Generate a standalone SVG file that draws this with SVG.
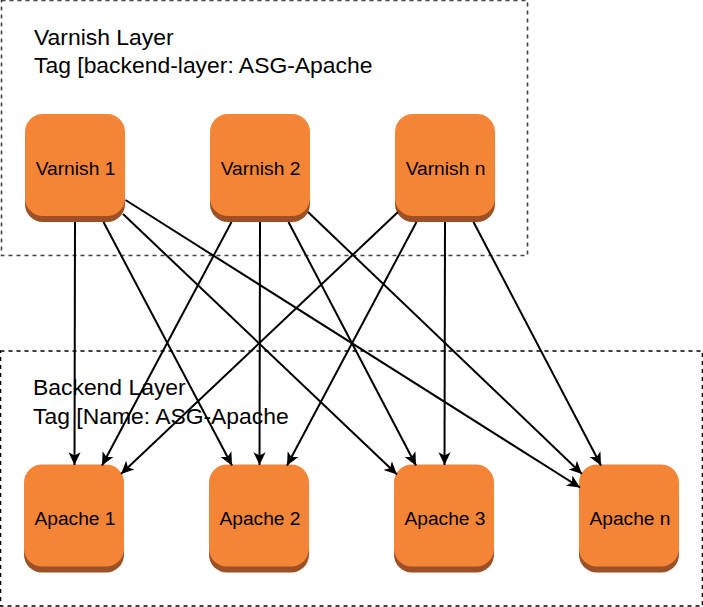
<svg xmlns="http://www.w3.org/2000/svg" width="703" height="607" viewBox="0 0 703 607">
<defs>
<marker id="arrow" markerUnits="userSpaceOnUse" markerWidth="14" markerHeight="14" refX="11" refY="6" orient="auto" viewBox="0 0 12 12"><path d="M0,0.8 L11,6 L0,11.2 L2.800,6 Z" fill="#000"/></marker>
<g id="tile"><rect x="0" y="6" width="100" height="102" rx="18" fill="#9d5025"/><rect x="0" y="0" width="100" height="102" rx="18" fill="#f58536"/></g>
</defs>
<style>
text{font-family:"Liberation Sans",Arial,sans-serif;fill:#000}
.lbl{font-size:19.200px;text-anchor:middle}
.title{font-size:22.900px}
.zone{fill:none;stroke-width:1.600;stroke-dasharray:4 4}
.c{fill:none;stroke:#000;stroke-width:2;marker-end:url(#arrow)}
</style>
<rect width="703" height="607" fill="#fff"/>
<g id="zones">
<rect id="varnish-layer" class="zone" stroke="#444" x="1.500" y="0.500" width="526" height="255"/>
<rect id="backend-layer" class="zone" stroke="#000" x="0.500" y="351" width="702" height="255"/>
</g>
<g id="zone-labels">
<text class="title" x="34" y="45">Varnish Layer</text>
<text class="title" x="34" y="73">Tag [backend-layer: ASG-Apache</text>
<text class="title" x="33" y="395">Backend Layer</text>
<text class="title" x="33" y="424">Tag [Name: ASG-Apache</text>
</g>
<g id="varnish-1"><use href="#tile" x="25" y="114"/><text class="lbl" x="75.500" y="175">Varnish 1</text></g>
<g id="varnish-2"><use href="#tile" x="210" y="114"/><text class="lbl" x="260.500" y="175">Varnish 2</text></g>
<g id="varnish-n"><use href="#tile" x="395" y="114"/><text class="lbl" x="445.500" y="175">Varnish n</text></g>
<g id="apache-1"><use href="#tile" x="24" y="464.500"/><text class="lbl" x="75" y="525">Apache 1</text></g>
<g id="apache-2"><use href="#tile" x="209" y="464.500"/><text class="lbl" x="260" y="525">Apache 2</text></g>
<g id="apache-3"><use href="#tile" x="394" y="464.500"/><text class="lbl" x="445" y="525">Apache 3</text></g>
<g id="apache-n"><use href="#tile" x="579" y="464.500"/><text class="lbl" x="630" y="525">Apache n</text></g>
<g id="connectors">
<line class="c" x1="75" y1="222" x2="74.500" y2="465"/>
<line class="c" x1="103.500" y1="222" x2="232" y2="465.500"/>
<line class="c" x1="123" y1="214" x2="397" y2="474.500"/>
<line class="c" x1="125.500" y1="200" x2="580" y2="487.500"/>
<line class="c" x1="231.500" y1="222" x2="102" y2="465.500"/>
<line class="c" x1="260" y1="222" x2="259.500" y2="465"/>
<line class="c" x1="288.500" y1="222" x2="416" y2="465.500"/>
<line class="c" x1="308" y1="212" x2="582" y2="474"/>
<line class="c" x1="398" y1="212" x2="121" y2="474"/>
<line class="c" x1="416.500" y1="222" x2="287" y2="465.500"/>
<line class="c" x1="445" y1="222" x2="444.500" y2="465"/>
<line class="c" x1="473.500" y1="222" x2="601" y2="465.500"/>
</g>
</svg>
